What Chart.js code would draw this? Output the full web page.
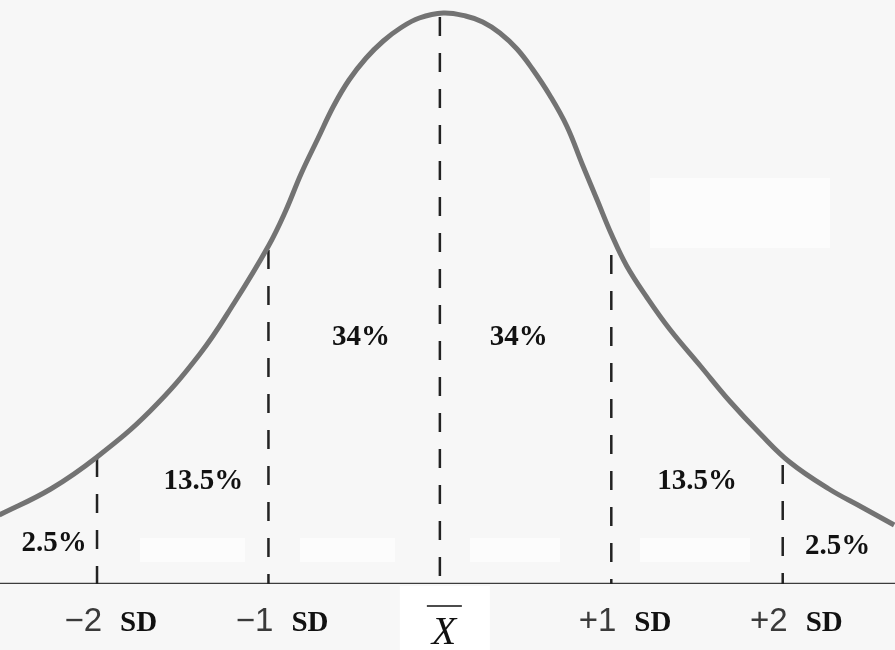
<!DOCTYPE html>
<html>
<head>
<meta charset="utf-8">
<script src="https://cdn.jsdelivr.net/npm/chart.js@4.4.1/dist/chart.umd.min.js"></script>
<style>
  html, body { margin: 0; padding: 0; background: #f7f7f7; }
  #wrap { position: relative; width: 895px; height: 650px; }
</style>
</head>
<body>
<div id="wrap"><canvas id="normalCurve"></canvas></div>
<script>
// curve: x in SD units, y = height above the baseline
const curveX = [-2.57, -2.27, -2.0, -1.69, -1.4, -1.2, -1.0, -0.9, -0.81, -0.71,
    -0.62, -0.53, -0.43, -0.33, -0.23, -0.12, 0.02, 0.15, 0.25, 0.35,
    0.45, 0.54, 0.64, 0.74, 0.83, 0.92, 1.0, 1.09, 1.21, 1.34,
    1.52, 1.69, 1.87, 2.04, 2.27, 2.46, 2.65];
const curveY = [69, 95, 127, 173, 230, 281, 338, 373, 410, 446,
    478, 504, 526, 543, 556, 566, 571, 568, 562, 551,
    535, 515, 489, 458, 420, 383, 350, 318, 286, 255,
    218, 183, 150, 122, 95, 77, 59];

// dashed SD markers and where they meet the curve
const sdValues = [-2, -1, 0, 1, 2];
const sdTops = [126, 334, 567, 329, 119];
const sdNumbers = ['\u22122', '\u22121', '', '+1', '+2'];

// area percentages and where they sit
const pctLabels = ['2.5%', '13.5%', '34%', '34%', '13.5%', '2.5%'];
const pctX = [-2.25, -1.38, -0.46, 0.46, 1.5, 2.32];
const pctY = [40, 102, 246, 246, 102, 37];

const xMin = -2.566;
const xMax = 2.655;

const curvePoints = curveX.map((x, i) => ({ x, y: curveY[i] }));

const dashSets = sdValues.map((v, i) => ({
    data: [{ x: v, y: sdTops[i] }, { x: v, y: 0 }],
    borderColor: '#222',
    borderWidth: 2.5,
    borderDash: [19, 17],
    pointRadius: 0,
    fill: false,
}));

const paperPlugin = {
    id: 'paper',
    beforeDraw(chart) {
        const { ctx, width, height } = chart;
        ctx.save();
        ctx.fillStyle = '#f7f7f7';
        ctx.fillRect(0, 0, width, height);
        // faint whited-out patches from the scan
        ctx.fillStyle = '#fcfcfc';
        [[140, 538, 105, 24], [300, 538, 95, 24], [470, 538, 90, 24], [640, 538, 110, 24], [650, 178, 180, 70]]
            .forEach(([x, y, w, h]) => ctx.fillRect(x, y, w, h));
        ctx.restore();
    }
};

const labelPlugin = {
    id: 'labels',
    afterDatasetsDraw(chart) {
        const { ctx, chartArea } = chart;
        const xs = chart.scales.x;
        const ys = chart.scales.y;
        ctx.save();

        ctx.fillStyle = '#111';
        ctx.font = 'bold 29px "Liberation Serif", serif';
        ctx.textAlign = 'center';
        ctx.textBaseline = 'middle';
        pctLabels.forEach((t, i) => {
            ctx.fillText(t, xs.getPixelForValue(pctX[i]), ys.getPixelForValue(pctY[i]));
        });

        const base = chartArea.bottom + 47;
        sdValues.forEach((v, i) => {
            const px = xs.getPixelForValue(v);
            if (v === 0) {
                ctx.fillStyle = '#ffffff';
                ctx.fillRect(px - 40, chartArea.bottom + 2, 90, 70);
                ctx.fillStyle = '#111';
                ctx.font = 'italic 40px "Liberation Serif", serif';
                ctx.textAlign = 'center';
                ctx.textBaseline = 'alphabetic';
                ctx.fillText('X', px + 4, base + 13);
                ctx.strokeStyle = '#111';
                ctx.lineWidth = 1.6;
                ctx.beginPath();
                ctx.moveTo(px - 13, chartArea.bottom + 22);
                ctx.lineTo(px + 22, chartArea.bottom + 22);
                ctx.stroke();
                return;
            }
            ctx.textBaseline = 'alphabetic';
            ctx.fillStyle = '#3a3a3a';
            ctx.font = '33px "Liberation Sans", sans-serif';
            ctx.textAlign = 'right';
            ctx.fillText(sdNumbers[i], px + 5, base);
            ctx.fillStyle = '#111';
            ctx.font = 'bold 29px "Liberation Serif", serif';
            ctx.textAlign = 'left';
            ctx.fillText('SD', px + 23, base);
        });
        ctx.restore();
    }
};

new Chart(document.getElementById('normalCurve').getContext('2d'), {
    type: 'line',
    data: {
        datasets: [
            {
                data: curvePoints,
                borderColor: '#737373',
                borderWidth: 5,
                pointRadius: 0,
                tension: 0.4,
                fill: false,
            },
            ...dashSets,
            {
                data: [{ x: xMin, y: 0 }, { x: xMax, y: 0 }],
                borderColor: '#3c3c3c',
                borderWidth: 2.5,
                pointRadius: 0,
                fill: false,
            },
        ]
    },
    options: {
        responsive: true,
        maintainAspectRatio: false,
        animation: false,
        layout: { padding: { left: 0, right: 0, top: 0, bottom: 66 } },
        scales: {
            x: { type: 'linear', min: xMin, max: xMax, display: false },
            y: { min: 0, max: 584, display: false }
        },
        plugins: {
            legend: { display: false },
            tooltip: { enabled: false }
        }
    },
    plugins: [paperPlugin, labelPlugin]
});
</script>
</body>
</html>
